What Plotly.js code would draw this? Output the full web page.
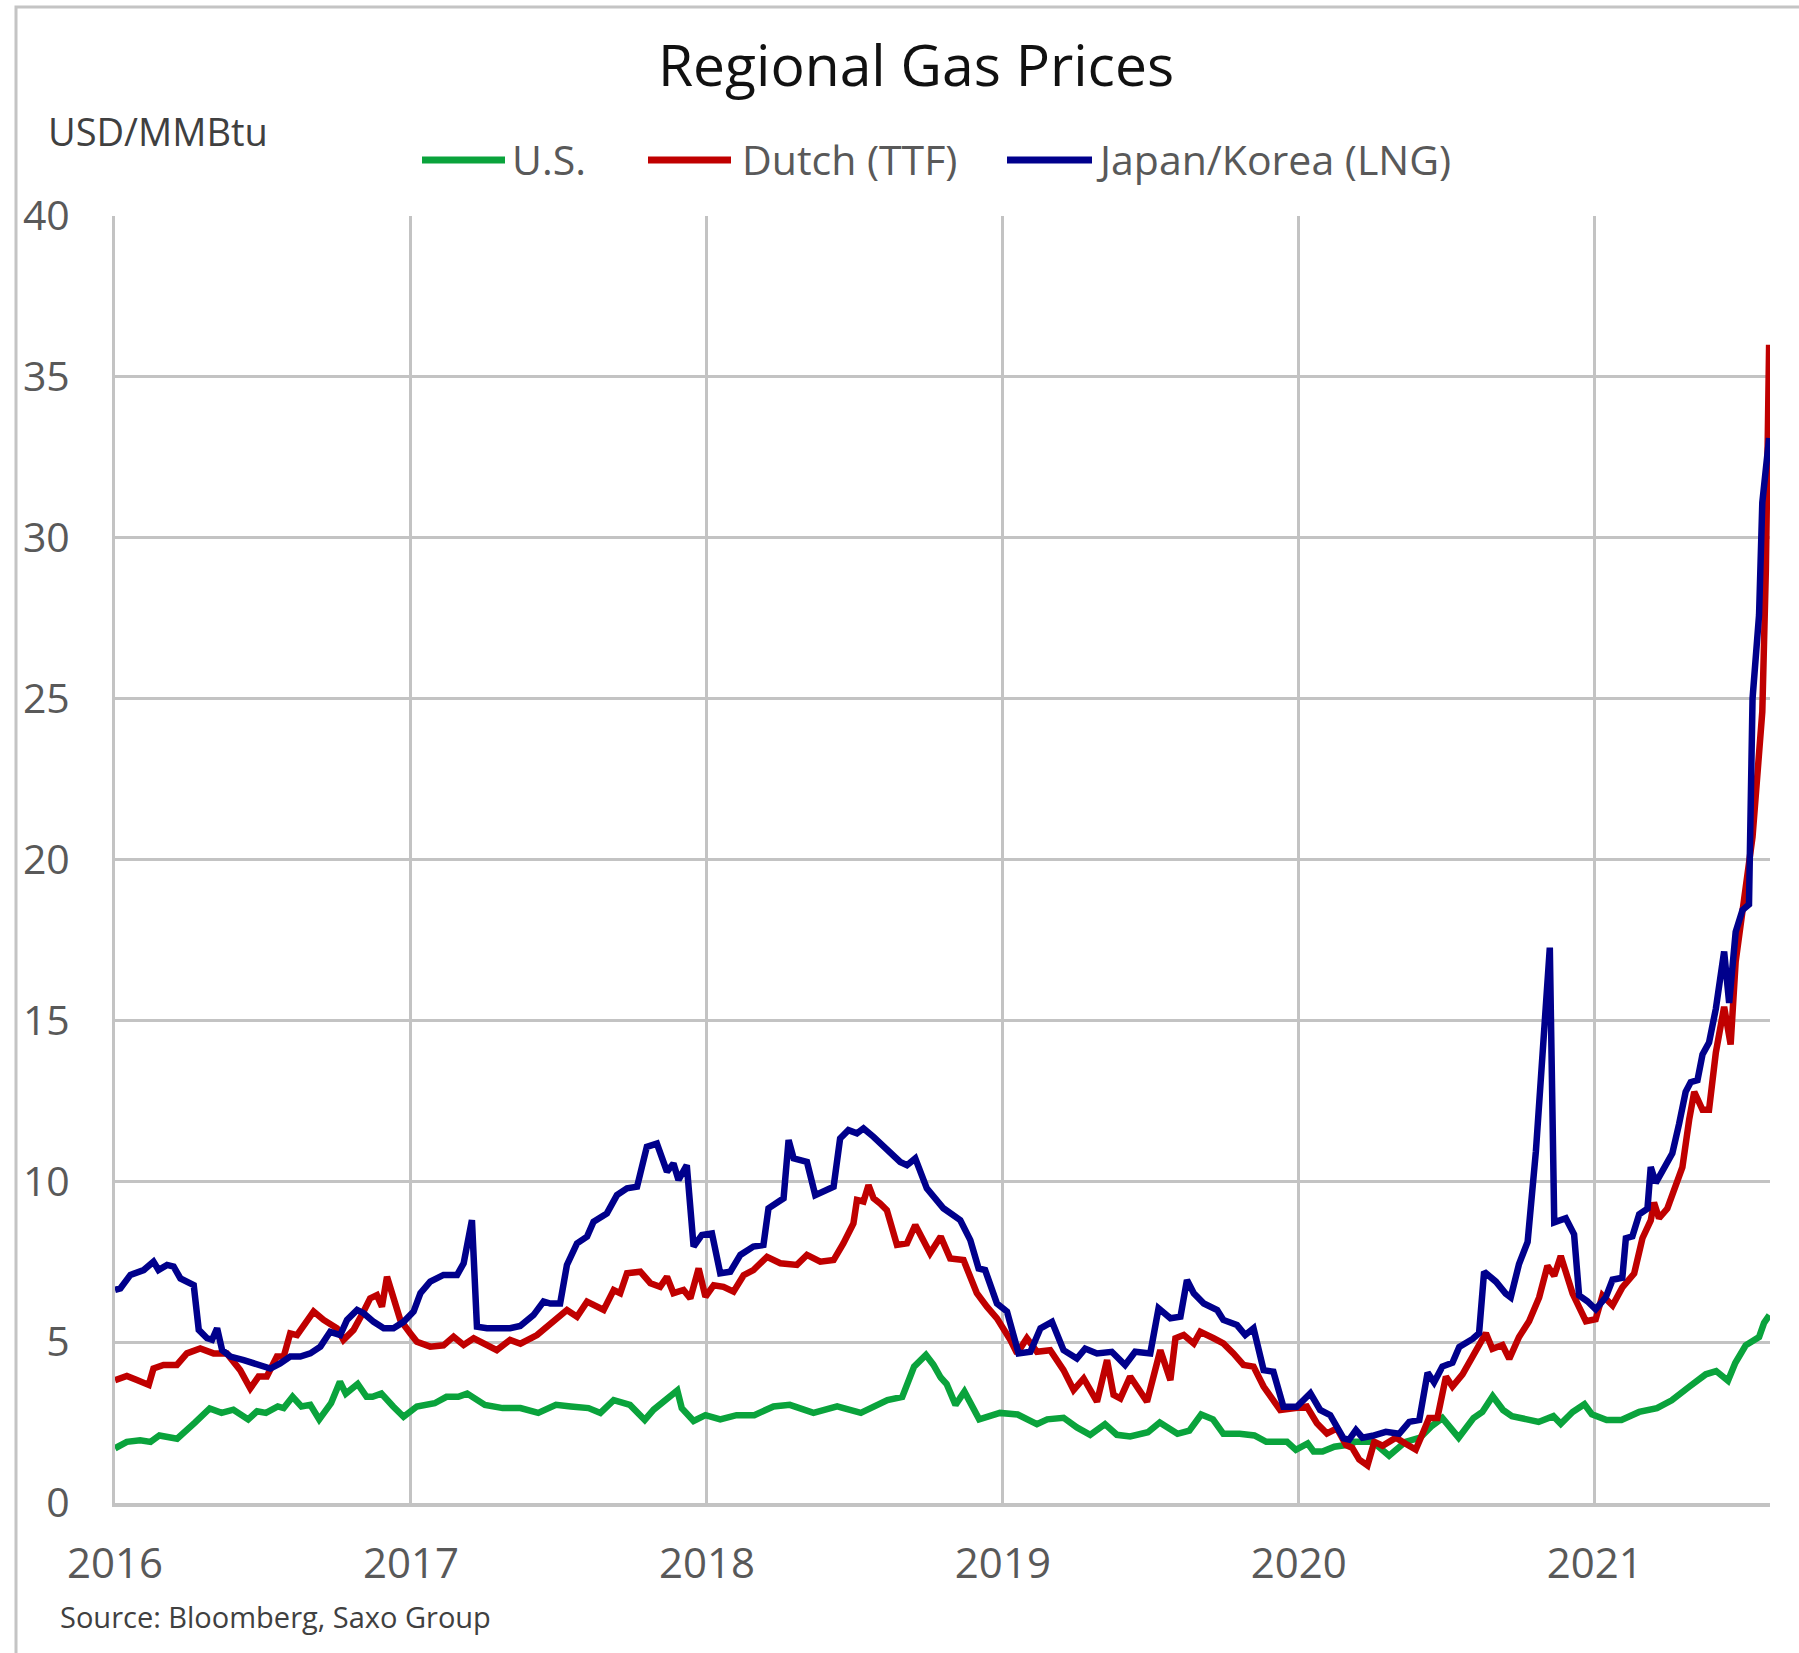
<!DOCTYPE html>
<html><head><meta charset="utf-8">
<script src="https://cdn.plot.ly/plotly-3.0.1.min.js"></script>
<style>html,body{margin:0;padding:0;background:#fff;} #chart{width:1799px;height:1653px;}</style>
</head><body><div id="chart"></div>
<script>
// ---- Data (decimal year, USD/MMBtu) ----
const usX = [2016.00,2016.04,2016.085,2016.12,2016.15,2016.21,2016.27,2016.32,2016.36,2016.40,2016.45,2016.48,2016.51,2016.55,2016.57,2016.60,2016.63,2016.66,2016.69,2016.73,2016.76,2016.78,2016.82,2016.85,2016.87,2016.90,2016.94,2016.975,2017.02,2017.08,2017.12,2017.16,2017.19,2017.25,2017.31,2017.37,2017.43,2017.49,2017.54,2017.60,2017.64,2017.685,2017.74,2017.79,2017.82,2017.865,2017.90,2017.915,2017.955,2017.995,2018.045,2018.10,2018.16,2018.225,2018.28,2018.36,2018.44,2018.52,2018.56,2018.61,2018.66,2018.70,2018.74,2018.765,2018.79,2018.81,2018.84,2018.87,2018.92,2018.99,2019.05,2019.115,2019.15,2019.205,2019.25,2019.295,2019.345,2019.385,2019.43,2019.49,2019.53,2019.59,2019.63,2019.67,2019.71,2019.745,2019.80,2019.85,2019.89,2019.96,2019.99,2020.03,2020.05,2020.08,2020.12,2020.16,2020.19,2020.25,2020.305,2020.36,2020.41,2020.45,2020.485,2020.54,2020.59,2020.62,2020.655,2020.69,2020.72,2020.77,2020.81,2020.86,2020.885,2020.925,2020.965,2020.99,2021.04,2021.09,2021.15,2021.21,2021.26,2021.32,2021.375,2021.41,2021.45,2021.475,2021.51,2021.555,2021.572,2021.59];
const usY = [1.70,1.90,1.95,1.90,2.10,2.00,2.50,2.94,2.80,2.90,2.60,2.85,2.80,3.00,2.95,3.30,3.00,3.05,2.60,3.10,3.77,3.40,3.70,3.30,3.30,3.40,3.00,2.68,3.00,3.10,3.30,3.30,3.40,3.05,2.95,2.95,2.80,3.05,3.00,2.95,2.80,3.20,3.05,2.58,2.90,3.25,3.50,2.95,2.55,2.73,2.60,2.73,2.73,3.00,3.05,2.80,3.00,2.80,3.00,3.20,3.30,4.24,4.60,4.30,3.90,3.70,3.05,3.46,2.60,2.80,2.75,2.45,2.60,2.65,2.35,2.12,2.45,2.12,2.07,2.20,2.50,2.15,2.25,2.75,2.60,2.15,2.15,2.10,1.90,1.90,1.65,1.85,1.60,1.60,1.75,1.80,1.90,1.90,1.47,1.90,2.03,2.40,2.64,2.03,2.64,2.83,3.32,2.89,2.70,2.58,2.52,2.70,2.46,2.83,3.07,2.76,2.58,2.58,2.83,2.95,3.19,3.62,4.00,4.10,3.80,4.36,4.90,5.16,5.60,5.84];

const ttfX = [2016.00,2016.04,2016.074,2016.114,2016.13,2016.164,2016.209,2016.243,2016.288,2016.333,2016.378,2016.423,2016.457,2016.485,2016.513,2016.547,2016.57,2016.592,2016.615,2016.637,2016.671,2016.705,2016.75,2016.772,2016.806,2016.84,2016.862,2016.885,2016.902,2016.919,2016.941,2016.964,2016.998,2017.02,2017.065,2017.11,2017.144,2017.178,2017.212,2017.246,2017.29,2017.335,2017.37,2017.426,2017.482,2017.527,2017.561,2017.595,2017.651,2017.685,2017.707,2017.73,2017.775,2017.809,2017.842,2017.865,2017.887,2017.921,2017.944,2017.972,2017.995,2018.023,2018.056,2018.09,2018.124,2018.157,2018.203,2018.248,2018.304,2018.338,2018.383,2018.428,2018.461,2018.495,2018.507,2018.529,2018.546,2018.563,2018.585,2018.608,2018.642,2018.676,2018.704,2018.754,2018.79,2018.822,2018.867,2018.912,2018.946,2018.98,2019.025,2019.048,2019.081,2019.115,2019.16,2019.205,2019.239,2019.273,2019.318,2019.352,2019.374,2019.397,2019.43,2019.487,2019.532,2019.566,2019.583,2019.611,2019.645,2019.667,2019.712,2019.745,2019.779,2019.813,2019.847,2019.881,2019.937,2019.993,2020.027,2020.061,2020.095,2020.129,2020.16,2020.18,2020.204,2020.232,2020.255,2020.283,2020.305,2020.328,2020.361,2020.395,2020.418,2020.44,2020.468,2020.497,2020.519,2020.553,2020.587,2020.632,2020.654,2020.688,2020.711,2020.744,2020.778,2020.812,2020.84,2020.863,2020.885,2020.925,2020.97,2021.003,2021.026,2021.06,2021.093,2021.133,2021.161,2021.189,2021.20,2021.217,2021.245,2021.274,2021.296,2021.319,2021.336,2021.364,2021.386,2021.409,2021.437,2021.459,2021.476,2021.505,2021.533,2021.566,2021.578,2021.589];
const ttfY = [3.82,3.95,3.82,3.67,4.18,4.29,4.29,4.65,4.80,4.65,4.65,4.13,3.56,3.93,3.93,4.55,4.55,5.27,5.22,5.53,5.95,5.69,5.43,5.07,5.38,5.95,6.36,6.46,6.10,7.03,6.31,5.69,5.27,5.01,4.86,4.90,5.17,4.91,5.12,4.96,4.75,5.07,4.95,5.22,5.69,6.00,5.79,6.26,6.00,6.62,6.52,7.14,7.19,6.83,6.72,7.03,6.52,6.62,6.36,7.29,6.41,6.77,6.72,6.57,7.08,7.24,7.65,7.45,7.40,7.71,7.50,7.55,8.07,8.69,9.42,9.37,9.88,9.47,9.31,9.10,8.02,8.07,8.64,7.76,8.28,7.60,7.55,6.52,6.10,5.74,5.07,4.65,5.12,4.70,4.75,4.13,3.51,3.87,3.15,4.44,3.36,3.25,3.93,3.15,4.75,3.82,5.12,5.22,4.96,5.32,5.12,4.96,4.65,4.29,4.24,3.62,2.89,2.94,3.00,2.48,2.16,2.32,1.80,1.72,1.35,1.17,1.90,1.78,1.90,2.03,1.84,1.66,2.15,2.64,2.64,3.93,3.62,4.00,4.55,5.28,4.79,4.91,4.48,5.16,5.65,6.39,7.37,7.06,7.68,6.51,5.65,5.71,6.45,6.14,6.70,7.13,8.23,8.78,9.34,8.85,9.15,9.89,10.44,11.92,12.78,12.22,12.22,14.00,15.42,14.25,16.83,18.80,20.70,24.60,29.00,36.00];

const lngX = [2016.00,2016.018,2016.052,2016.097,2016.13,2016.147,2016.176,2016.198,2016.221,2016.243,2016.266,2016.283,2016.311,2016.328,2016.345,2016.362,2016.39,2016.435,2016.48,2016.525,2016.558,2016.592,2016.626,2016.66,2016.694,2016.727,2016.761,2016.784,2016.818,2016.84,2016.874,2016.908,2016.941,2016.975,2017.009,2017.032,2017.065,2017.11,2017.156,2017.178,2017.206,2017.223,2017.257,2017.302,2017.335,2017.369,2017.414,2017.448,2017.471,2017.504,2017.527,2017.561,2017.595,2017.617,2017.662,2017.696,2017.73,2017.764,2017.797,2017.831,2017.865,2017.887,2017.904,2017.932,2017.955,2017.983,2018.017,2018.045,2018.079,2018.113,2018.157,2018.191,2018.208,2018.259,2018.276,2018.293,2018.338,2018.366,2018.394,2018.428,2018.45,2018.478,2018.507,2018.529,2018.563,2018.608,2018.653,2018.676,2018.704,2018.743,2018.775,2018.799,2018.856,2018.89,2018.918,2018.94,2018.98,2019.014,2019.053,2019.093,2019.127,2019.166,2019.205,2019.25,2019.278,2019.318,2019.368,2019.413,2019.447,2019.498,2019.526,2019.566,2019.60,2019.622,2019.645,2019.679,2019.724,2019.745,2019.791,2019.819,2019.847,2019.881,2019.914,2019.948,2019.993,2020.039,2020.072,2020.106,2020.151,2020.17,2020.193,2020.215,2020.249,2020.294,2020.339,2020.373,2020.407,2020.435,2020.457,2020.485,2020.519,2020.542,2020.587,2020.609,2020.626,2020.666,2020.699,2020.716,2020.744,2020.773,2020.801,2020.823,2020.848,2020.863,2020.902,2020.93,2020.947,2020.975,2021.003,2021.037,2021.06,2021.093,2021.105,2021.127,2021.15,2021.178,2021.189,2021.206,2021.234,2021.262,2021.285,2021.307,2021.324,2021.347,2021.364,2021.386,2021.409,2021.437,2021.454,2021.476,2021.499,2021.521,2021.533,2021.555,2021.566,2021.578,2021.589];
const lngY = [6.62,6.67,7.09,7.24,7.50,7.24,7.40,7.35,6.98,6.88,6.77,5.38,5.12,5.07,5.43,4.75,4.55,4.44,4.29,4.18,4.34,4.55,4.55,4.65,4.86,5.32,5.22,5.69,6.00,5.90,5.63,5.43,5.43,5.63,5.95,6.52,6.88,7.09,7.09,7.45,8.79,5.48,5.43,5.43,5.43,5.50,5.84,6.26,6.20,6.20,7.40,8.07,8.28,8.74,9.00,9.57,9.78,9.83,11.07,11.17,10.30,10.55,10.04,10.50,7.97,8.33,8.38,7.14,7.19,7.71,7.97,8.02,9.16,9.47,11.28,10.71,10.60,9.57,9.67,9.83,11.33,11.59,11.49,11.64,11.38,11.02,10.60,10.50,10.71,9.78,9.40,9.16,8.79,8.17,7.29,7.24,6.20,5.95,4.65,4.70,5.43,5.63,4.75,4.49,4.80,4.65,4.70,4.29,4.70,4.65,6.05,5.74,5.79,6.93,6.52,6.20,6.00,5.69,5.53,5.22,5.43,4.13,4.08,2.99,2.99,3.41,2.89,2.73,2.01,1.97,2.27,2.03,2.09,2.21,2.15,2.52,2.58,4.05,3.75,4.24,4.36,4.85,5.10,5.28,7.19,6.88,6.51,6.39,7.43,8.11,10.93,14.13,17.26,8.72,8.85,8.35,6.45,6.27,6.02,6.39,6.94,7.00,8.23,8.29,8.97,9.15,10.44,9.95,10.44,10.87,11.79,12.78,13.08,13.14,13.94,14.31,15.36,17.14,15.54,17.75,18.43,18.60,25.00,27.60,31.10,32.10,33.10];

const seriesNames = ['U.S.', 'Dutch (TTF)', 'Japan/Korea (LNG)'];
const yearTicks = [2016, 2017, 2018, 2019, 2020, 2021];
const yearLabels = ['2016', '2017', '2018', '2019', '2020', '2021'];
const yTicks = [0, 5, 10, 15, 20, 25, 30, 35, 40];

// ---- Styling / layout ----
const colors = ['#0aa33c', '#c00000', '#00008c'];
const FONT = '"Open Sans", "Noto Sans", sans-serif';
const W = 1799, H = 1653;
const M = {l: 115, r: 29, t: 216, b: 150};
const pw = W - M.l - M.r, ph = H - M.t - M.b;
const px2x = px => (px - M.l) / pw;
const py2y = py => (H - M.b - py) / ph;

const traces = [
  {x: usX, y: usY, name: seriesNames[0]},
  {x: ttfX, y: ttfY, name: seriesNames[1]},
  {x: lngX, y: lngY, name: seriesNames[2]}
].map((t, i) => Object.assign(t, {
  type: 'scatter', mode: 'lines', showlegend: false,
  line: {color: colors[i], width: 6.5}, hoverinfo: 'x+y+name'
}));

// custom legend (long line samples, as in the reference)
const legendPos = [
  {x0: 422, x1: 505, tx: 510},
  {x0: 648, x1: 731, tx: 740},
  {x0: 1007, x1: 1092, tx: 1094}
];
const legendY = 159;
const shapes = [
  {type: 'rect', xref: 'paper', yref: 'paper', layer: 'below',
   x0: px2x(16), x1: px2x(1850), y0: py2y(7), y1: py2y(1720),
   line: {color: '#c4c4c4', width: 3}, fillcolor: 'rgba(0,0,0,0)'}
];
const annotations = [];
legendPos.forEach((p, i) => {
  shapes.push({type: 'line', xref: 'paper', yref: 'paper',
    x0: px2x(p.x0), x1: px2x(p.x1), y0: py2y(legendY + 1), y1: py2y(legendY + 1),
    line: {color: colors[i], width: 7}});
  annotations.push({xref: 'paper', yref: 'paper', x: px2x(p.tx), y: py2y(legendY),
    xanchor: 'left', yanchor: 'middle', showarrow: false, text: seriesNames[i],
    font: {family: FONT, size: 41, color: '#595959'}});
});
annotations.push({xref: 'paper', yref: 'paper', x: px2x(46), y: py2y(131),
  xanchor: 'left', yanchor: 'middle', showarrow: false, text: 'USD/MMBtu',
  font: {family: FONT, size: 38, color: '#404040'}});
annotations.push({xref: 'paper', yref: 'paper', x: px2x(58), y: py2y(1617),
  xanchor: 'left', yanchor: 'middle', showarrow: false, text: 'Source: Bloomberg, Saxo Group',
  font: {family: FONT, size: 29, color: '#404040'}});

const gridColor = '#c3c3c3';
const layout = {
  width: W, height: H,
  margin: M,
  paper_bgcolor: '#ffffff', plot_bgcolor: '#ffffff',
  font: {family: FONT, color: '#595959'},
  title: {text: 'Regional Gas Prices', xref: 'container', yref: 'container',
    x: 916 / W, xanchor: 'center', y: 1 - 66 / H, yanchor: 'middle',
    font: {family: FONT, size: 57, color: '#111111'}},
  xaxis: {
    type: 'linear', range: [2016, 2021.592],
    tickmode: 'array', tickvals: yearTicks, ticktext: yearLabels,
    showgrid: true, gridcolor: gridColor, gridwidth: 3,
    showline: true, linecolor: gridColor, linewidth: 4,
    zeroline: false,
    ticks: 'outside', ticklen: 21, tickcolor: 'rgba(0,0,0,0)',
    tickfont: {family: FONT, size: 42, color: '#595959'}
  },
  yaxis: {
    range: [0, 40], tickmode: 'array', tickvals: yTicks,
    showgrid: true, gridcolor: gridColor, gridwidth: 3,
    showline: true, linecolor: gridColor, linewidth: 3,
    zeroline: false,
    ticks: 'outside', ticklen: 34, tickcolor: 'rgba(0,0,0,0)',
    tickfont: {family: FONT, size: 41, color: '#595959'}
  },
  shapes: shapes,
  annotations: annotations,
  showlegend: false
};

Plotly.newPlot('chart', traces, layout, {displayModeBar: false, responsive: false});
</script></body></html>
